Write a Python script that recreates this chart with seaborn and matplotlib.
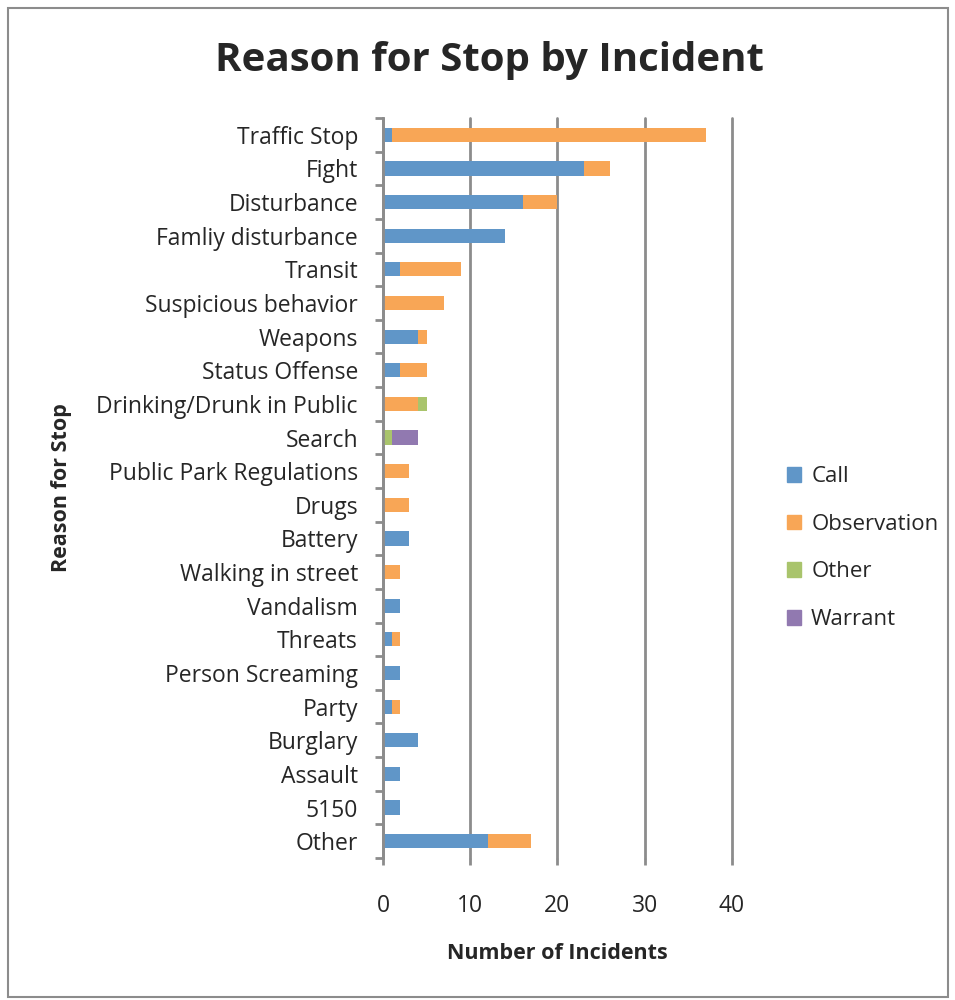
import matplotlib
matplotlib.use("Agg")
import matplotlib.pyplot as plt
import matplotlib.patches as mpatches
import seaborn as sns
import pandas as pd
import numpy as np

# values
reasons = ["Traffic Stop", "Fight", "Disturbance", "Famliy disturbance", "Transit",
           "Suspicious behavior", "Weapons", "Status Offense", "Drinking/Drunk in Public",
           "Search", "Public Park Regulations", "Drugs", "Battery", "Walking in street",
           "Vandalism", "Threats", "Person Screaming", "Party", "Burglary", "Assault",
           "5150", "Other"]
call        = [1, 23, 16, 14, 2, 0, 4, 2, 0, 0, 0, 0, 3, 0, 2, 1, 2, 1, 4, 2, 2, 12]
observation = [36, 3, 4, 0, 7, 7, 1, 3, 4, 0, 3, 3, 0, 2, 0, 1, 0, 1, 0, 0, 0, 5]
other       = [0, 0, 0, 0, 0, 0, 0, 0, 1, 1, 0, 0, 0, 0, 0, 0, 0, 0, 0, 0, 0, 0]
warrant     = [0, 0, 0, 0, 0, 0, 0, 0, 0, 3, 0, 0, 0, 0, 0, 0, 0, 0, 0, 0, 0, 0]

series = ["Call", "Observation", "Other", "Warrant"]
colors = ["#6096C8", "#F8A656", "#A9C46C", "#9179B0"]

sns.set_style("white")
plt.rcParams["font.family"] = ["Open Sans", "DejaVu Sans"]

df = pd.DataFrame({"reason": reasons, "Call": call, "Observation": observation,
                   "Other": other, "Warrant": warrant})
cum = df[series].cumsum(axis=1)

fig = plt.figure(figsize=(9.55, 10), dpi=100)
ax = fig.add_axes([0.401, 0.142, 0.3654, 0.74])

# stacked bars: draw the longest cumulative layer first, then cover it
for s, c in zip(series[::-1], colors[::-1]):
    sns.barplot(x=cum[s], y=df["reason"], orient="h", color=c, width=0.42,
                edgecolor="none", saturation=1, ax=ax)

ax.set_xlim(0, 40)
ax.set_xticks([0, 10, 20, 30, 40])
ax.set_ylim(len(reasons) - 0.5, -0.5)
ax.grid(axis="x", color="#8c8c8c", linewidth=2)
for gl in ax.get_xgridlines():
    gl.set_clip_on(False)
ax.set_axisbelow(True)
for side in ["top", "right", "bottom"]:
    ax.spines[side].set_visible(False)
ax.spines["left"].set_color("#8c8c8c")
ax.spines["left"].set_linewidth(2)

# tick marks on the category boundaries
ax.set_yticks(np.arange(len(reasons) + 1) - 0.5, minor=True)
ax.tick_params(axis="y", which="minor", length=6, width=2, color="#8c8c8c", left=True)
ax.tick_params(axis="y", which="major", length=0, pad=18, labelsize=16.5)
ax.tick_params(axis="x", length=5, width=2, color="#8c8c8c", bottom=True, pad=21,
               labelsize=16.5)

ax.set_xlabel("Number of Incidents", fontsize=15.5, fontweight="bold", labelpad=18)
ax.set_ylabel("Reason for Stop", fontsize=15.5, fontweight="bold")
ax.yaxis.set_label_coords(-0.89, 0.5)

fig.text(0.512, 0.94, "Reason for Stop by Incident", ha="center", va="center",
         fontsize=29, fontweight="bold")

handles = [mpatches.Patch(color=c, label=s) for s, c in zip(series, colors)]
fig.legend(handles=handles, loc="center left", bbox_to_anchor=(0.824, 0.452),
           frameon=False, fontsize=16, labelspacing=1.2, handlelength=0.64,
           handleheight=0.64, handletextpad=0.45, borderpad=0, borderaxespad=0)

# grey chart border
fig.add_artist(mpatches.Rectangle((0.008, 0.003), 0.985, 0.989, transform=fig.transFigure,
                                  fill=False, edgecolor="#8c8c8c", linewidth=1.5))

fig.savefig("out.png", dpi=100)
